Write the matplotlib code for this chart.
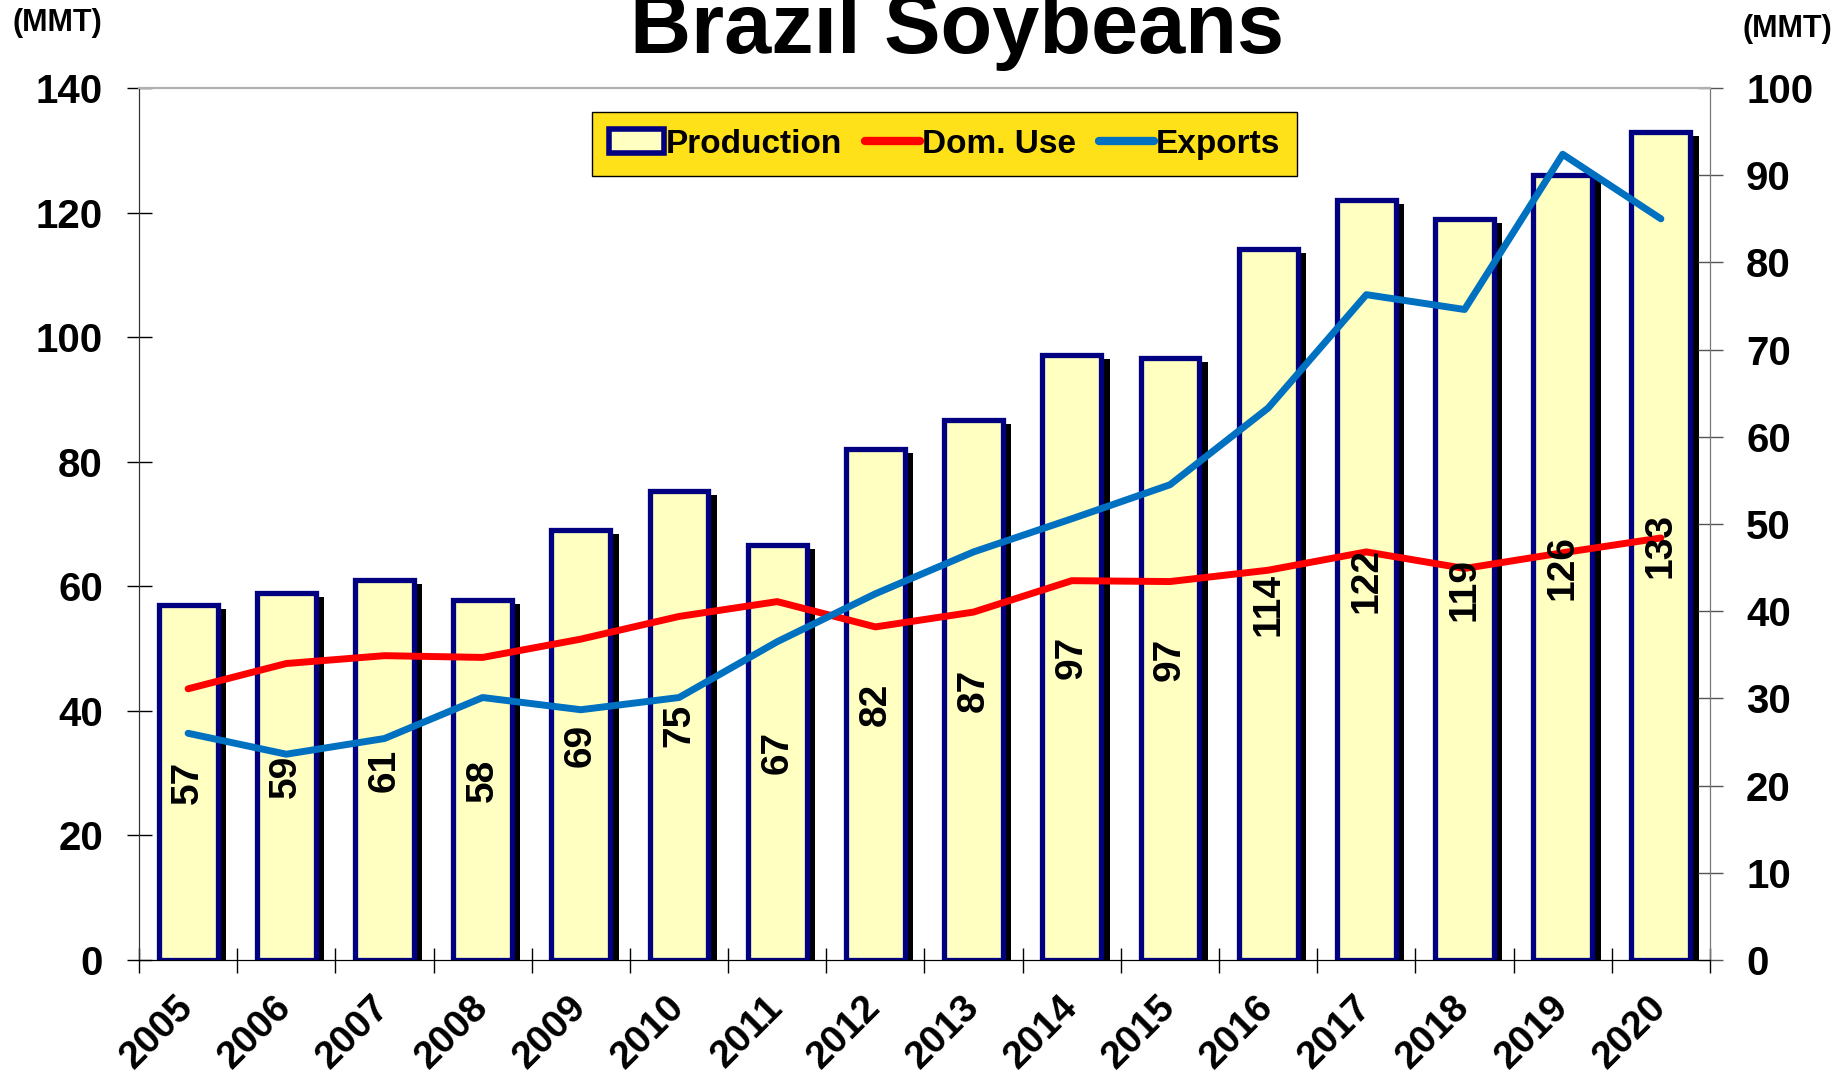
import matplotlib
matplotlib.use("Agg")
import matplotlib.pyplot as plt
import matplotlib.patheffects as pe
from matplotlib.transforms import ScaledTranslation
from matplotlib.lines import Line2D
from matplotlib.patches import Patch
from matplotlib.ticker import FixedLocator

years = ["2005", "2006", "2007", "2008", "2009", "2010", "2011", "2012",
         "2013", "2014", "2015", "2016", "2017", "2018", "2019", "2020"]
production = [57.0, 59.0, 61.0, 57.8, 69.0, 75.3, 66.6, 82.0,
              86.7, 97.2, 96.6, 114.1, 122.0, 119.0, 126.0, 133.0]
dom_use = [31.1, 34.0, 34.9, 34.7, 36.8, 39.4, 41.1, 38.2,
           39.9, 43.5, 43.4, 44.7, 46.8, 44.9, 46.7, 48.4]
exports = [26.0, 23.6, 25.4, 30.1, 28.7, 30.1, 36.5, 42.0,
           46.8, 50.6, 54.5, 63.3, 76.3, 74.6, 92.4, 85.0]
left_ticks = [0, 20, 40, 60, 80, 100, 120, 140]
right_ticks = [0, 10, 20, 30, 40, 50, 60, 70, 80, 90, 100]

plt.rcParams['font.family'] = ['Liberation Sans', 'DejaVu Sans']
plt.rcParams['font.weight'] = 'bold'

fig = plt.figure(figsize=(18.49, 10.81), dpi=100)
ax = fig.add_axes([139/1849, 1-960/1081, 1571/1849, 872/1081])
ax2 = ax.twinx()

NAVY = '#000080'
FACE = '#FFFFC2'
RED = '#FF0000'
BLUE = '#0070C0'

x = list(range(len(years)))
bars = ax.bar(x, production, width=0.6, color=FACE, edgecolor=NAVY,
              linewidth=3.8, zorder=2)
for b in bars:
    b.set_path_effects([pe.SimplePatchShadow(offset=(6, -3), shadow_rgbFace='black', alpha=1.0),
                        pe.Normal()])

ax.set_xlim(-0.5, len(years) - 0.5)
ax.set_ylim(0, 140)
ax2.set_ylim(0, 100)

ax2.plot(x, dom_use, color=RED, linewidth=5, solid_capstyle='round', solid_joinstyle='round', zorder=3)
ax2.plot(x, exports, color=BLUE, linewidth=5, solid_capstyle='round', solid_joinstyle='round', zorder=3)

for xi, v in zip(x, production):
    ax2.text(xi, v / 2, f"{round(v):d}", transform=ax.transData, rotation=90,
             ha='center', va='center', fontsize=28, fontweight='bold', color='black', zorder=5)

# ticks
ax.set_yticks(left_ticks)
ax.set_yticklabels([str(t) for t in left_ticks], fontsize=29, fontweight='bold')
ax.tick_params(axis='y', direction='inout', length=18, width=1, pad=17, colors='black')
ax2.set_yticks(right_ticks)
ax2.set_yticklabels([str(t) for t in right_ticks], fontsize=29, fontweight='bold')
ax2.tick_params(axis='y', direction='inout', length=18, width=1, pad=17, colors='black')
ax2.tick_params(axis='y', color='#555555')

ax.set_xticks(x)
ax.set_xticklabels(years, fontsize=28, fontweight='bold', rotation=45,
                   ha='right', va='top', rotation_mode='anchor')
ax.tick_params(axis='x', which='major', length=0, pad=21)
ax.xaxis.set_minor_locator(FixedLocator([i - 0.5 for i in range(len(years) + 1)]))
ax.tick_params(axis='x', which='minor', direction='inout', length=18, width=1, color='black')
for lab in ax.get_xticklabels():
    lab.set_transform(lab.get_transform() + ScaledTranslation(-13/100, 0, fig.dpi_scale_trans))

for a in (ax, ax2):
    a.spines['top'].set_color('#B0B0B0')
    a.spines['top'].set_linewidth(1.5)
    a.spines['left'].set_color('#333333')
    a.spines['right'].set_color('#777777')
    a.spines['bottom'].set_color('black')
    a.set_facecolor('none')

# legend
handles = [Patch(facecolor=FACE, edgecolor=NAVY, linewidth=4),
           Line2D([], [], color=RED, linewidth=6, solid_capstyle='round'),
           Line2D([], [], color=BLUE, linewidth=6, solid_capstyle='round')]
leg = ax2.legend(handles, ["Production", "Dom. Use", "Exports"], ncol=3,
                 loc='upper center', bbox_to_anchor=((944.5-139)/1571, (960-112)/872),
                 borderaxespad=0, frameon=True, fancybox=False, facecolor='#FFE119',
                 edgecolor='black', framealpha=1, handlelength=1.65, handleheight=0.7,
                 handletextpad=0.05, columnspacing=0.7, borderpad=0.5,
                 prop={'weight': 'bold', 'size': 24})
leg.get_frame().set_linewidth(1)

fig.text(957/1849, 1 - 53/1081, "Brazil Soybeans", ha='center', va='baseline',
         fontsize=61, fontweight='bold')
fig.text(57/1849, 1 - 23/1081, "(MMT)", ha='center', va='center', fontsize=22, fontweight='bold')
fig.text(1787/1849, 1 - 29/1081, "(MMT)", ha='center', va='center', fontsize=22, fontweight='bold')

fig.savefig("out.png", dpi=100)
